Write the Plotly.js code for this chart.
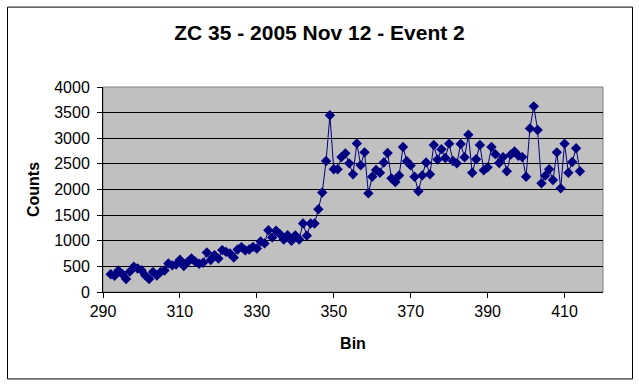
<!DOCTYPE html>
<html>
<head>
<meta charset="utf-8">
<script src="https://cdn.plot.ly/plotly-3.0.1.min.js"></script>
<style>html,body{margin:0;padding:0;background:#fff}#chart{width:639px;height:384px}</style>
</head>
<body>
<div id="chart"></div>
<script>
const bins = [];
for (let b = 292; b <= 414; b++) bins.push(b);
const counts = [
  345, 318, 418, 350, 255, 400, 495, 458, 425, 322,
  255, 392, 322, 392, 420, 555, 520, 535, 628, 505,
  585, 655, 590, 552, 572, 770, 625, 718, 652, 818,
  782, 750, 673, 830, 876, 812, 830, 880, 848, 985,
  948, 1206, 1065, 1195, 1130, 1025, 1108, 1000, 1105, 1025,
  1337, 1100, 1337, 1337, 1615, 1942, 2555, 3450, 2394, 2394,
  2632, 2705, 2510, 2298, 2900, 2473, 2725, 1925, 2250, 2380,
  2328, 2528, 2712, 2218, 2145, 2275, 2828, 2550, 2470, 2250,
  1965, 2275, 2528, 2298, 2868, 2585, 2785, 2615, 2895, 2555,
  2510, 2888, 2628, 3070, 2328, 2590, 2868, 2375, 2432, 2828,
  2690, 2518, 2632, 2355, 2680, 2742, 2660, 2632, 2250, 3192,
  3622, 3160, 2120, 2270, 2394, 2185, 2725, 2022, 2895, 2328,
  2538, 2806, 2355
];
const xTicks = [290, 310, 330, 350, 370, 390, 410];
const yTicks = [0, 500, 1000, 1500, 2000, 2500, 3000, 3500, 4000];

const navy = '#000080';
const font = 'Liberation Sans, Arial, sans-serif';

Plotly.newPlot('chart', [{
  x: bins, y: counts, type: 'scatter', mode: 'lines+markers',
  line: {color: navy, width: 1},
  marker: {symbol: 'diamond', size: 8, color: navy},
  showlegend: false, hoverinfo: 'x+y'
}], {
  width: 639, height: 384,
  margin: {l: 103, r: 36, t: 87, b: 92, pad: 0},
  paper_bgcolor: '#ffffff', plot_bgcolor: '#c0c0c0',
  font: {family: font, color: '#000', size: 16},
  title: {text: '<b>ZC 35 - 2005 Nov 12 - Event 2</b>', font: {family: font, size: 21, color: '#000'},
          x: 0.5, xanchor: 'center', y: 1 - 32.5/384, yanchor: 'middle', yref: 'container', xref: 'container'},
  xaxis: {range: [290, 420], tickvals: xTicks, ticktext: xTicks.map(String),
          ticks: 'outside', ticklen: 5, tickcolor: '#000', tickwidth: 1,
          showline: true, linecolor: '#000', linewidth: 1, mirror: false,
          showgrid: false, zeroline: false, automargin: false,
          tickfont: {family: font, size: 16, color: '#000'},
          title: {text: '<b>Bin</b>', font: {family: font, size: 16, color: '#000'}, standoff: 18}},
  yaxis: {range: [0, 4000], tickvals: yTicks, ticktext: yTicks.map(String),
          ticks: 'outside', ticklen: 5, tickcolor: '#000', tickwidth: 1, ticklabelstandoff: 4,
          showline: true, linecolor: '#000', linewidth: 1, automargin: false,
          showgrid: true, gridcolor: '#000', gridwidth: 1, zeroline: false,
          tickfont: {family: font, size: 16, color: '#000'},
          title: {text: '<b>Counts</b>', font: {family: font, size: 16, color: '#000'}, standoff: 10}},
  shapes: [
    {type: 'rect', xref: 'paper', yref: 'paper', x0: 0, x1: 1, y0: 0, y1: 1,
     line: {color: '#808080', width: 1}, layer: 'below'},
    {type: 'rect', xref: 'paper', yref: 'paper',
     x0: (7.5 - 103) / 500, x1: (632.5 - 103) / 500,
     y0: (291 - 377.5) / 204, y1: (291 - 7.5) / 204,
     line: {color: '#000', width: 1}}
  ]
}, {staticPlot: true, displayModeBar: false});
</script>
</body>
</html>
